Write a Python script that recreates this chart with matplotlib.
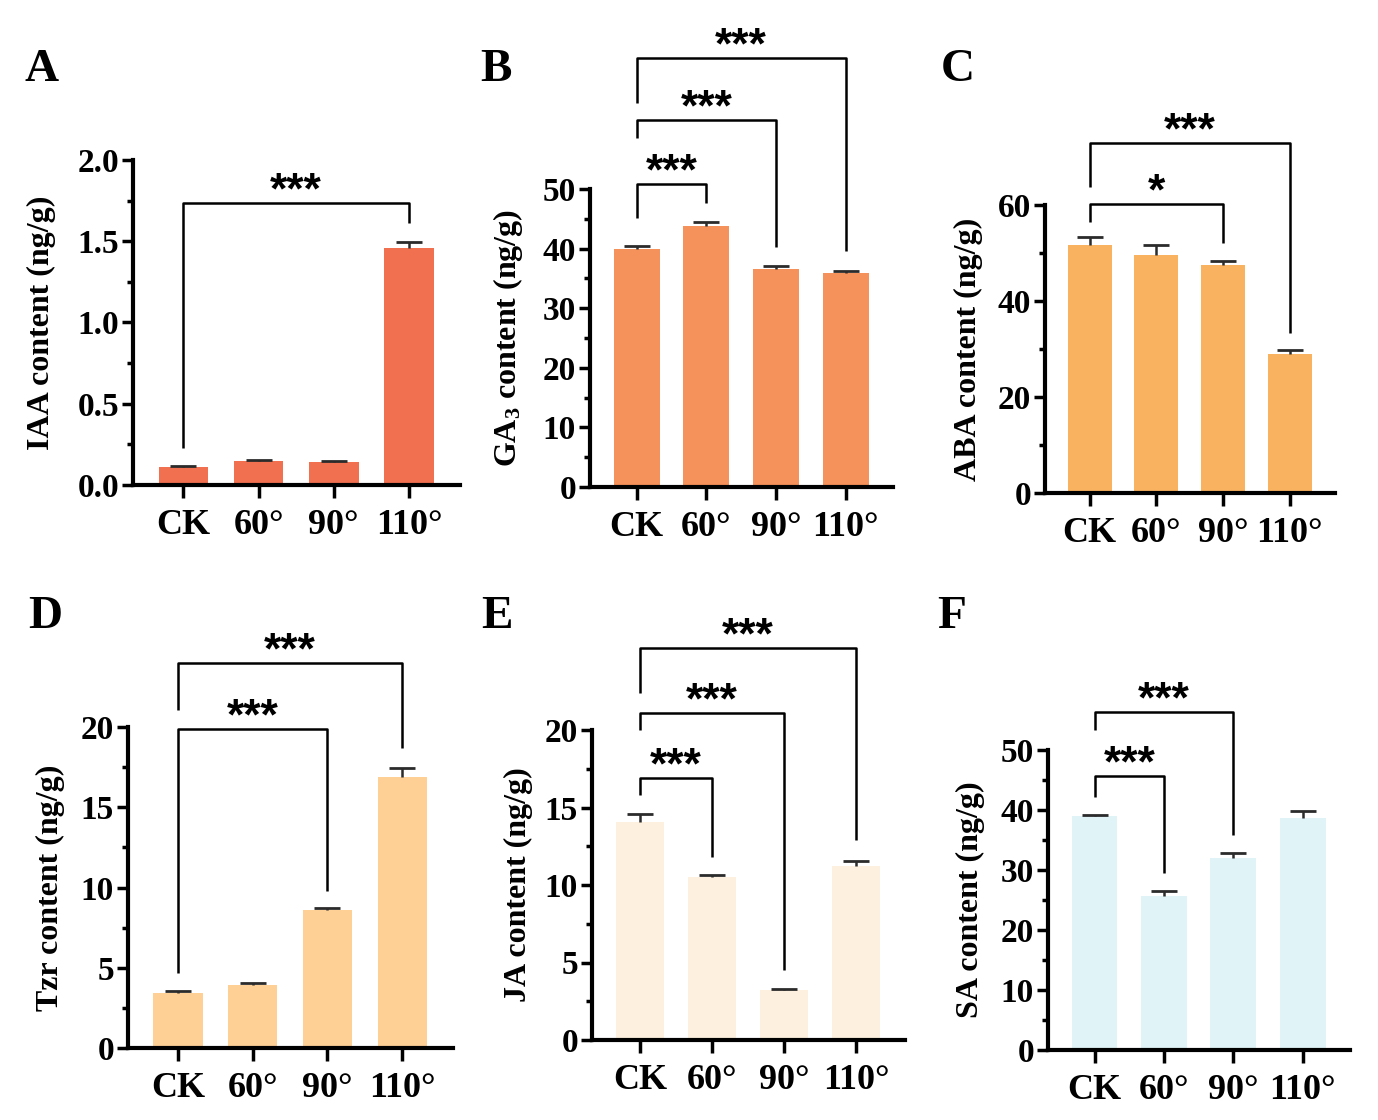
import matplotlib
matplotlib.use("Agg")
import matplotlib.pyplot as plt
from matplotlib.ticker import MultipleLocator

plt.rcParams['font.family'] = 'Liberation Serif'
plt.rcParams['font.weight'] = 'bold'
plt.rcParams['axes.labelweight'] = 'bold'
plt.rcParams['mathtext.fontset'] = 'custom'
plt.rcParams['mathtext.rm'] = 'Liberation Serif:bold'
plt.rcParams['mathtext.it'] = 'Liberation Serif:bold'
plt.rcParams['mathtext.bf'] = 'Liberation Serif:bold'

categories = ['CK', '60°', '90°', '110°']

# mean values and (upper) error bars
iaa = [0.11, 0.15, 0.14, 1.46]
iaa_err = [0.005, 0.005, 0.005, 0.035]
ga3 = [40.0, 43.8, 36.5, 35.9]
ga3_err = [0.4, 0.6, 0.6, 0.4]
aba = [51.7, 49.6, 47.5, 29.0]
aba_err = [1.6, 2.1, 0.8, 0.8]
tzr = [3.45, 3.9, 8.6, 16.9]
tzr_err = [0.12, 0.12, 0.12, 0.55]
ja = [14.06, 10.5, 3.2, 11.2]
ja_err = [0.55, 0.15, 0.1, 0.35]
sa = [39.0, 25.6, 32.0, 38.7]
sa_err = [0.2, 0.9, 0.9, 1.2]

# significance brackets: (from, to, line height, left end, right end, label)
iaa_sig = [(0, 3, 1.735, 0.23, 1.61, '***')]
ga3_sig = [(0, 1, 50.8, 45.2, 47.7, '***'),
           (0, 2, 61.5, 58.5, 40.3, '***'),
           (0, 3, 71.9, 64.4, 39.6, '***')]
aba_sig = [(0, 2, 60.2, 56.5, 52.1, '*'),
           (0, 3, 72.9, 63.75, 33.3, '***')]
tzr_sig = [(0, 2, 19.9, 4.7, 9.8, '***'),
           (0, 3, 24.0, 21.05, 18.7, '***')]
ja_sig = [(0, 1, 16.9, 15.8, 11.8, '***'),
          (0, 2, 21.1, 20.0, 4.5, '***'),
          (0, 3, 25.3, 22.4, 12.9, '***')]
sa_sig = [(0, 1, 45.7, 42.2, 29.5, '***'),
          (0, 2, 56.3, 53.3, 35.8, '***')]

W, H = 1378, 1120


def rect(left, right, bottom, top):
    return [left / W, 1 - bottom / H, (right - left) / W, (bottom - top) / H]


def panel(fig, box, values, err, color, ylabel, ymax, major, minor, sig, label_x, fmt=None):
    ax = fig.add_axes(box)
    x = list(range(len(categories)))
    tops = [v + e for v, e in zip(values, err)]
    ax.bar(x, values, width=0.66, color=color, edgecolor='none', zorder=2)
    # only the upper half of each error bar is shown
    ax.vlines(x, values, tops, color='#2b2b2b', lw=1.8, zorder=3)
    ax.plot(x, tops, ls='none', marker='_', markersize=19, mew=2, color='#2b2b2b', zorder=3)
    ax.set_xlim(-0.67, 3.68)
    ax.set_ylim(0, ymax)
    ax.yaxis.set_major_locator(MultipleLocator(major))
    ax.yaxis.set_minor_locator(MultipleLocator(minor))
    if fmt:
        ax.yaxis.set_major_formatter(fmt)
    ax.set_xticks(x)
    ax.set_xticklabels(categories, fontsize=26)
    ax.tick_params(axis='y', which='major', labelsize=24, length=8, width=2.5, pad=2)
    ax.tick_params(axis='y', which='minor', length=4, width=2.5)
    ax.tick_params(axis='x', length=9, width=2.5, pad=8)
    for s in ['top', 'right']:
        ax.spines[s].set_visible(False)
    for s in ['left', 'bottom']:
        ax.spines[s].set_linewidth(3)
    ax.set_ylabel(ylabel, fontsize=23)
    ax.yaxis.set_label_coords(label_x, 0.5)
    for i, j, yh, yl, yr, txt in sig:
        ax.plot([i, i, j, j], [yl, yh, yh, yr], color='black', lw=1.8,
                clip_on=False, solid_capstyle='butt', zorder=4)
        ax.annotate(txt, xy=((i + j) / 2, yh), xytext=(0, 8), textcoords='offset points',
                    ha='center', va='center', fontsize=32, family='Liberation Sans',
                    fontweight='bold', annotation_clip=False)
    return ax


fig = plt.figure(figsize=(W / 100, H / 100), dpi=100)

panel(fig, rect(133, 460, 485, 160), iaa, iaa_err, '#F07050', 'IAA content (ng/g)',
      2.0, 0.5, 0.25, iaa_sig, -0.235, fmt='{x:.1f}')
panel(fig, rect(590, 893, 487, 189), ga3, ga3_err, '#F5915A', r'GA$_3$ content (ng/g)',
      50, 10, 5, ga3_sig, -0.215)
panel(fig, rect(1045, 1335, 493, 205), aba, aba_err, '#F9B25F', 'ABA content (ng/g)',
      60, 20, 10, aba_sig, -0.214)
panel(fig, rect(128, 453, 1048, 727), tzr, tzr_err, '#FED096', 'Tzr content (ng/g)',
      20, 5, 2.5, tzr_sig, -0.194)
panel(fig, rect(592, 905, 1040, 730), ja, ja_err, '#FDF0DE', 'JA content (ng/g)',
      20, 5, 2.5, ja_sig, -0.19)
panel(fig, rect(1048, 1350, 1050, 750), sa, sa_err, '#E0F3F6', 'SA content (ng/g)',
      50, 10, 5, sa_sig, -0.21)

letters = [('A', 42, 70), ('B', 496, 70), ('C', 958, 70),
           ('D', 45, 617), ('E', 497, 617), ('F', 952, 617)]
for t, px, py in letters:
    fig.text(px / W, 1 - py / H, t, fontsize=34, fontweight='bold',
             ha='center', va='center')

fig.savefig('out.png', dpi=100)
